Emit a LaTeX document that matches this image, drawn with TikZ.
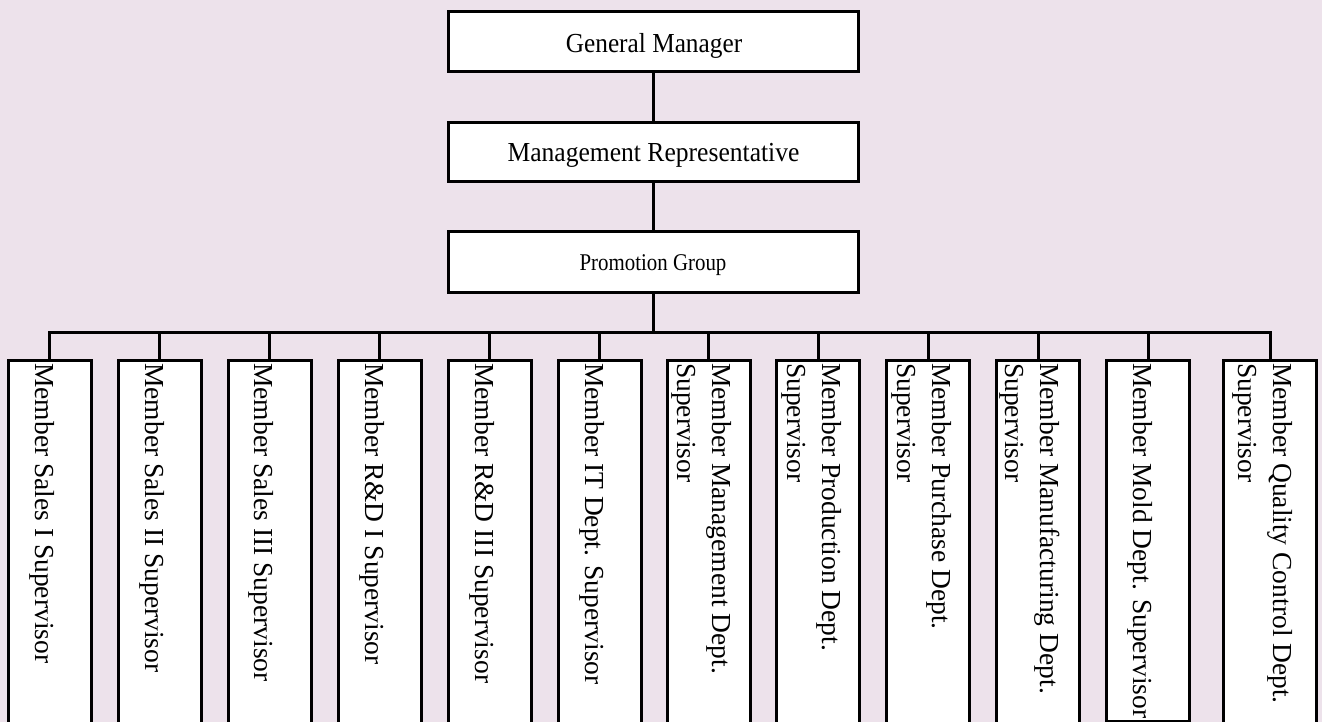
\documentclass[tikz,border=0pt]{standalone}
\usepackage{fontspec}
\setmainfont{Liberation Serif}
\definecolor{bg}{RGB}{237,226,235}
\begin{document}
\begin{tikzpicture}[x=1pt,y=-1pt,
  box/.style={draw=black, line width=3pt, fill=white, rectangle, inner sep=0pt},
  conn/.style={draw=black, line width=3pt},
  lbl/.style={inner sep=0pt, font=\fontsize{27.5}{35}\selectfont},
  vlbl/.style={lbl, rotate=-90, anchor=base west, align=left}]

\useasboundingbox (0,0) rectangle (1322,722);
\clip (0,0) rectangle (1322,722);
\fill[bg] (0,0) rectangle (1322,722);

% top chain
\node[box, minimum width=410pt, minimum height=60pt] (gm) at (653.5,41.5) {};
\node[box, minimum width=410pt, minimum height=59.5pt] (mr) at (653.5,152) {};
\node[box, minimum width=410pt, minimum height=61pt] (pg) at (653.5,261.8) {};
\node[lbl, anchor=base] (gmt) at (654,53) {\scalebox{0.92}[1]{General Manager}};
\node[lbl, anchor=base] (mrt) at (653.5,162) {\scalebox{0.93}[1]{Management Representative}};
\node[lbl, anchor=base, font=\fontsize{24}{28}\selectfont] (pgt) at (653,270) {\scalebox{0.87}[1]{Promotion Group}};

% bottom boxes
\node[box, anchor=north, minimum width=83pt, minimum height=372pt] (b1) at (49.5,358.7) {};
\node[box, anchor=north, minimum width=83pt, minimum height=372pt] (b2) at (159.5,358.7) {};
\node[box, anchor=north, minimum width=83pt, minimum height=372pt] (b3) at (269.5,358.7) {};
\node[box, anchor=north, minimum width=83pt, minimum height=372pt] (b4) at (379.5,358.7) {};
\node[box, anchor=north, minimum width=83pt, minimum height=372pt] (b5) at (489.5,358.7) {};
\node[box, anchor=north, minimum width=83pt, minimum height=372pt] (b6) at (599.5,358.7) {};
\node[box, anchor=north, minimum width=83pt, minimum height=372pt] (b7) at (708.5,358.7) {};
\node[box, anchor=north, minimum width=83pt, minimum height=372pt] (b8) at (818,358.7) {};
\node[box, anchor=north, minimum width=83pt, minimum height=372pt] (b9) at (928,358.7) {};
\node[box, anchor=north, minimum width=83pt, minimum height=372pt] (b10) at (1038,358.7) {};
\node[box, anchor=north, minimum width=83pt, minimum height=361.5pt] (b11) at (1148,358.7) {};
\node[box, anchor=north, minimum width=93pt, minimum height=372pt] (b12) at (1270,358.7) {};

% connectors
\coordinate (j) at (653.5,332);
\draw[conn] (gm) -- (mr);
\draw[conn] (mr) -- (pg);
\draw[conn] (pg.south) -- (j);
\draw[conn] (b1.north) -- (b1.north |- j) -- (b12.north |- j) -- (b12.north);
\foreach \k in {2,...,11} \draw[conn] (b\k.north) -- (b\k.north |- j);

% labels
\node[vlbl] (t1) at (35,363) {Member Sales I Supervisor};
\node[vlbl] (t2) at (145,363) {Member Sales II Supervisor};
\node[vlbl] (t3) at (254,363) {Member Sales III Supervisor};
\node[vlbl] (t4) at (365,363) {Member R\&D I Supervisor};
\node[vlbl] (t5) at (475,363) {Member R\&D III Supervisor};
\node[vlbl] (t6) at (585,363) {Member IT Dept. Supervisor};
\node[vlbl] (t7) at (677,363) {Member Management Dept.\\Supervisor};
\node[vlbl] (t8) at (787,363) {Member Production Dept.\\Supervisor};
\node[vlbl] (t9) at (897,363) {Member Purchase Dept.\\Supervisor};
\node[vlbl] (t10) at (1005,363) {Member Manufacturing Dept.\\Supervisor};
\node[vlbl] (t11) at (1133,363) {Member Mold Dept. Supervisor};
\node[vlbl] (t12) at (1238,363) {Member Quality Control Dept.\\Supervisor};
\end{tikzpicture}
\end{document}
